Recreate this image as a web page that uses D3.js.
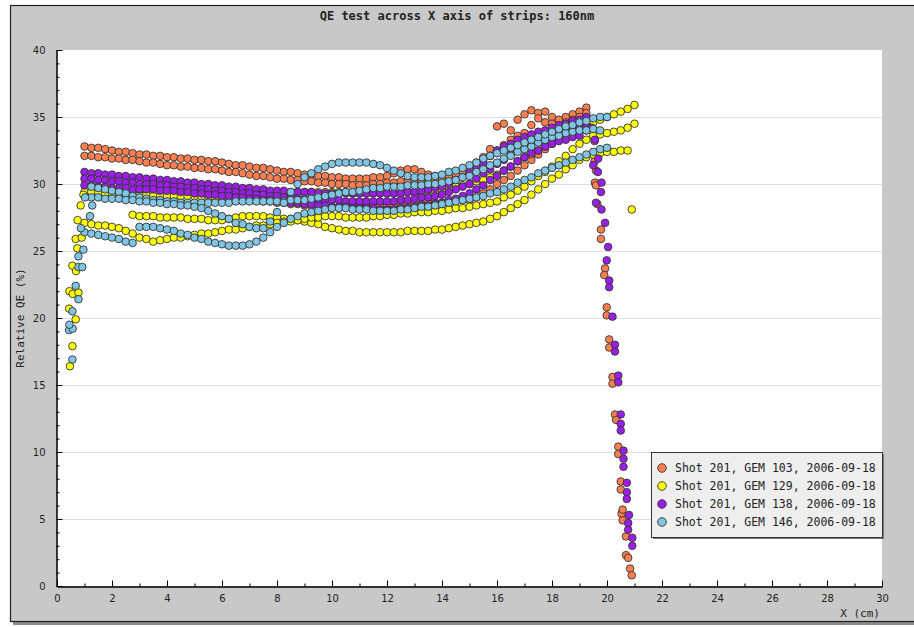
<!DOCTYPE html>
<html>
<head>
<meta charset="utf-8">
<script src="https://cdn.jsdelivr.net/npm/d3@7"></script>
<style>
  body { margin: 0; background: #fff; }
  text { fill: #222; }
</style>
</head>
<body>
<svg id="chart" width="914" height="627"></svg>
<script>
// scans are sampled every 0.25 cm starting at x0
var STEP = 0.25;

var seriesNames = [
  'Shot 201, GEM 103, 2006-09-18',
  'Shot 201, GEM 129, 2006-09-18',
  'Shot 201, GEM 138, 2006-09-18',
  'Shot 201, GEM 146, 2006-09-18'
];

var gem103Scans = [
  {x0: 1.0, y: [32.8,32.7,32.7,32.6,32.5,32.4,32.4,32.3,32.2,32.2,32.1,32.1,32.0,32.0,31.9,31.9,31.8,31.8,31.7,31.7,31.6,31.5,31.4,31.4,31.3,31.2,31.2,31.1,31.0,30.9,30.9,30.8,30.7,30.7,30.6,30.6,30.5,30.5,30.4,30.4,30.4,30.4,30.5,30.5,30.6,30.8,31.0,31.1,31.1,30.9,30.7,30.6,30.6,30.7,30.9,31.0,31.2,31.6,32.0,32.6,34.3,34.5,34.0,34.8,35.2,35.5,35.3,35.4,35.0,34.8,35.0,35.2,35.4,35.7]},
  {x0: 1.0, y: [32.1,32.1,32.0,32.0,31.9,31.9,31.8,31.8,31.7,31.6,31.6,31.5,31.4,31.4,31.3,31.3,31.2,31.2,31.1,31.1,31.0,30.9,30.9,30.8,30.7,30.6,30.6,30.5,30.4,30.4,30.3,30.3,30.2,30.2,30.1,30.1,30.0,30.0,30.0,29.9,29.9,29.9,30.0,30.0,30.1,30.1,30.2,30.2,30.3,30.3,30.4,30.4,30.5,30.6,30.7,30.9,31.0,31.4,31.8,32.1,32.5,32.9,33.3,33.6,33.8,34.4,34.9,34.6,34.5,34.3,34.6,34.8,35.0,35.3]},
  {x0: 6.75, y: [28.9,28.8,28.8,28.7,28.7,28.6,28.6,28.5,28.5,28.4,28.4,28.4,28.3,28.3,28.3,28.3,28.3,28.3,28.3,28.4,28.4,28.4,28.4,28.5,28.5,28.5,28.5,28.6,28.6,28.6,28.7,28.7,28.8,28.8,29.0,29.3,29.6,30.0,30.3,30.6,31.0,31.4,31.8,32.2,32.6,33.0,33.4,33.7,34.0,34.3]}
];
var gem103Loose = [
  [19.5,34.6],[19.55,33.2],[19.55,31.7],[19.6,31.0],[19.56,30.1],[19.6,29.9],[19.65,28.5],[19.78,26.6],[19.78,25.9],
  [19.93,23.7],[19.9,23.2],[19.99,20.8],[19.99,20.2],[20.08,18.4],[20.08,17.8],[20.2,15.6],[20.2,15.1],
  [20.29,12.8],[20.33,12.4],[20.41,10.4],[20.41,9.85],[20.5,7.8],[20.5,7.2],[20.53,5.4],[20.57,5.7],[20.57,4.9],
  [20.69,3.7],[20.69,2.3],[20.77,2.1],[20.84,1.3],[20.9,0.8]
];

var gem129Scans = [
  {x0: 1.0, y: [29.4,29.4,29.4,29.3,29.3,29.3,29.2,29.2,29.2,29.2,29.1,29.1,29.1,29.1,29.1,29.1,29.1,29.1,29.0,29.0,29.0,29.0,29.0,29.1,29.1,29.1,29.2,29.2,29.3,29.3,29.3,29.4,29.4,29.4,29.4,29.4,29.4,29.4,29.4,29.3,29.3,29.3,29.3,29.3,29.3,29.3,29.3,29.4,29.4,29.4,29.5,29.5,29.6,29.7,29.8,29.9,30.0,30.2,30.3,30.5,30.7,31.0,31.3,31.7,32.0,32.2,32.5,32.8,33.0,33.3,33.6,33.8,34.1,34.3,34.6,34.8,35.0,35.2,35.4,35.6,35.9]},
  {x0: 2.75, y: [27.7,27.6,27.6,27.6,27.5,27.5,27.5,27.5,27.4,27.4,27.4,27.3,27.3,27.3,27.4,27.5,27.6,27.6,27.6,27.6,27.5,27.5,27.4,27.4,27.3,27.2,27.1,27.0,26.8,26.7,26.6,26.5,26.5,26.4,26.4,26.4,26.4,26.4,26.4,26.4,26.5,26.5,26.5,26.5,26.6,26.6,26.7,26.8,26.9,27.0,27.1,27.2,27.4,27.6,27.9,28.2,28.5,28.8,29.2,29.6,30.0,30.4,30.7,31.1,31.4,31.8,32.0,32.2,32.3,32.4,32.4,32.5,32.5]},
  {x0: 1.0, y: [27.1,27.0,26.9,26.9,26.8,26.7,26.5,26.3,26.0,25.9,25.7,25.8,25.9,26.0,26.0,26.1,26.2,26.3,26.3,26.4,26.5,26.6,26.6,26.7,26.8,26.9,26.9,27.0,27.1,27.2,27.2,27.3,27.4,27.5,27.5,27.6,27.6,27.6,27.5,27.5,27.5,27.5,27.6,27.6,27.7,27.7,27.8,27.8,27.9,27.9,27.9,28.0,28.0,28.1,28.2,28.2,28.3,28.4,28.5,28.6,28.7,29.0,29.2,29.5,29.8,30.2,30.6,30.9,31.3,31.7,32.1,32.6,33.0,33.3,33.6,33.7,33.8,33.9,34.0,34.2,34.5]}
];
var gem129Loose = [
  [0.47,16.4],[0.56,17.9],[0.68,19.9],[0.44,20.7],[0.45,22.0],[0.57,21.8],[0.78,21.9],[0.56,23.9],
  [0.69,23.5],[0.68,25.9],[0.74,25.2],[0.9,26.0],[0.75,27.3],[0.86,28.4],[0.96,29.2],[20.9,28.1]
];

var gem138Scans = [
  {x0: 1.0, y: [30.9,30.8,30.8,30.7,30.7,30.6,30.6,30.5,30.5,30.4,30.4,30.3,30.3,30.2,30.2,30.1,30.1,30.0,30.0,29.9,29.9,29.8,29.8,29.7,29.7,29.6,29.6,29.5,29.5,29.5,29.4,29.4,29.4,29.4,29.3,29.3,29.3,29.3,29.3,29.3,29.3,29.3,29.3,29.3,29.3,29.3,29.3,29.4,29.4,29.5,29.6,29.7,29.8,30.0,30.3,30.5,30.8,31.2,31.6,32.1,32.5,32.8,33.0,33.3,33.5,33.7,33.9,34.0,34.2,34.4,34.5,34.7,34.8,35.0]},
  {x0: 1.0, y: [30.4,30.4,30.3,30.3,30.2,30.2,30.1,30.1,30.0,30.0,30.0,29.9,29.9,29.8,29.8,29.7,29.7,29.6,29.6,29.5,29.5,29.4,29.4,29.3,29.3,29.2,29.2,29.1,29.1,29.0,29.0,28.9,28.9,28.9,28.8,28.8,28.8,28.8,28.7,28.7,28.7,28.7,28.7,28.7,28.7,28.7,28.8,28.8,28.9,29.0,29.0,29.1,29.2,29.4,29.6,29.8,30.0,30.4,30.8,31.1,31.5,31.8,32.2,32.5,32.8,33.0,33.2,33.4,33.6,33.7,33.9,34.0,34.2,34.5]},
  {x0: 1.0, y: [29.9,29.9,29.8,29.8,29.7,29.7,29.7,29.6,29.6,29.6,29.6,29.5,29.5,29.5,29.4,29.4,29.3,29.3,29.2,29.2,29.1,29.1,29.0,29.0,28.9,28.9,28.8,28.8,28.7,28.7,28.6,28.6,28.5,28.5,28.4,28.4,28.3,28.3,28.3,28.2,28.2,28.2,28.2,28.1,28.1,28.1,28.2,28.2,28.3,28.4,28.4,28.5,28.6,28.8,28.9,29.1,29.3,29.6,29.9,30.3,30.6,31.0,31.3,31.7,32.0,32.3,32.5,32.8,33.0,33.2,33.3,33.5,33.6,34.0]}
];
var gem138Loose = [
  [19.44,34.2],[19.56,33.3],[19.68,31.9],[19.5,31.4],[19.67,30.9],[19.8,30.1],[19.78,29.4],[19.6,28.6],
  [19.8,28.1],[19.93,27.1],[20.04,25.3],[19.99,24.3],[20.08,22.8],[20.08,22.3],[20.2,20.1],[20.29,18.0],
  [20.29,17.5],[20.41,15.7],[20.41,15.2],[20.5,12.8],[20.5,12.1],[20.5,11.6],[20.6,10.1],[20.6,9.5],
  [20.6,8.9],[20.72,7.7],[20.72,7.0],[20.72,6.5],[20.8,5.3],[20.77,4.7],[20.77,4.2],[20.92,3.6],[20.92,3.0]
];

var gem146Scans = [
  {x0: 1.25, y: [29.8,29.7,29.6,29.5,29.4,29.3,29.1,29.0,28.9,28.8,28.8,28.7,28.7,28.6,28.6,28.6,28.6,28.6,28.6,28.6,28.6,28.7,28.7,28.7,28.7,28.7,28.7,28.7,28.7,28.8,28.8,28.8,28.9,29.0,29.1,29.2,29.3,29.4,29.4,29.5,29.6,29.7,29.7,29.8,29.8,29.8,29.9,29.9,29.9,30.0,30.0,30.1,30.2,30.3,30.5,30.6,30.9,31.1,31.4,31.6,31.9,32.1,32.4,32.6,32.8,33.1,33.3,33.5,33.6,33.8,33.9,34.0,34.0,34.1,34.0]},
  {x0: 1.25, y: [29.0,29.0,28.9,28.9,28.9,28.8,28.8,28.7,28.7,28.6,28.6,28.5,28.5,28.4,28.4,28.3,28.2,28.0,27.8,27.6,27.4,27.1,27.0,26.8,26.7,26.7,27.2,27.9,28.6,29.4,30.0,30.5,30.8,31.1,31.3,31.5,31.6,31.6,31.6,31.6,31.6,31.5,31.4,31.2,31.0,30.8,30.6,30.5,30.5,30.5,30.6,30.7,30.9,31.0,31.2,31.4,31.6,31.9,32.1,32.3,32.5,32.7,32.9,33.1,33.3,33.5,33.7,33.9,34.1,34.3,34.4,34.6,34.7,34.9,35.0,35.0]},
  {x0: 1.0, y: [26.4,26.3,26.2,26.1,26.0,25.9,25.7,25.6,26.8,26.8,26.8,26.7,26.6,26.5,26.3,26.2,26.0,25.9,25.7,25.6,25.5,25.4,25.4,25.4,25.5,25.7,26.0,26.4,26.8,27.1,27.4,27.6,27.8,27.9,28.0,28.1,28.2,28.2,28.2,28.1,28.1,28.1,28.0,28.0,28.0,28.0,28.1,28.1,28.2,28.3,28.3,28.4,28.5,28.6,28.7,28.8,28.9,29.0,29.1,29.3,29.4,29.6,29.8,30.1,30.3,30.5,30.8,31.0,31.2,31.4,31.6,31.8,32.0,32.2,32.4,32.6,32.7]}
];
var gem146Loose = [
  [0.56,16.9],[0.44,19.1],[0.57,19.2],[0.45,19.5],[0.56,20.5],[0.78,21.4],[0.68,22.4],[0.78,23.8],
  [0.92,23.8],[0.78,24.6],[0.96,25.1],[0.87,26.7],[1.2,27.6],[1.02,29.0],[1.28,28.4]
];

var xTickValues = d3.range(0, 31, 2);
var yTickValues = d3.range(0, 41, 5);

var colors = ['#ff7f50', '#ffff00', '#9a1fe6', '#80c6e4'];

// flatten scans + loose points into [x, y] pairs
var toPoints = function (scans, loose) {
  var pts = [];
  scans.forEach(function (s) {
    s.y.forEach(function (v, i) {
      pts.push([s.x0 + i * STEP, v]);
    });
  });
  return pts.concat(loose);
};

var series = [
  toPoints(gem103Scans, gem103Loose),
  toPoints(gem129Scans, gem129Loose),
  toPoints(gem138Scans, gem138Loose),
  toPoints(gem146Scans, gem146Loose)
];

var svg = d3.select('#chart');
var plotLeft = 57, plotRight = 882, plotTop = 50, plotBottom = 586;

var x = d3.scaleLinear().domain([0, 30]).range([plotLeft, plotRight]);
var y = d3.scaleLinear().domain([0, 40]).range([plotBottom, plotTop]);

// frame
svg.append('rect').attr('x', 13).attr('y', 9).attr('width', 910).attr('height', 616).attr('fill', '#8a8a8a');
svg.append('rect').attr('x', 10.5).attr('y', 5.5).attr('width', 910).attr('height', 616)
  .attr('fill', '#c8c8c8').attr('stroke', '#222').attr('stroke-width', 1.2);

svg.append('rect').attr('x', plotLeft).attr('y', plotTop)
  .attr('width', plotRight - plotLeft).attr('height', plotBottom - plotTop)
  .attr('fill', '#fff');

svg.append('g').selectAll('line')
  .data(yTickValues.filter(function (d) { return d > 0 && d < 40; }))
  .enter().append('line')
  .attr('x1', plotLeft).attr('x2', plotRight)
  .attr('y1', function (d) { return y(d) + 0.5; })
  .attr('y2', function (d) { return y(d) + 0.5; })
  .attr('stroke', '#dedede');

// title
svg.append('text').attr('x', 457).attr('y', 20).attr('text-anchor', 'middle')
  .style('font', 'bold 12px "DejaVu Sans Mono"')
  .text('QE test across X axis of strips: 160nm');

// markers
svg.append('g').selectAll('g')
  .data(series)
  .enter().append('g')
  .attr('fill', function (d, i) { return colors[i]; })
  .selectAll('circle')
  .data(function (d) { return d; })
  .enter().append('circle')
  .attr('cx', function (d) { return x(d[0]); })
  .attr('cy', function (d) { return y(d[1]); })
  .attr('r', 3.8)
  .attr('stroke', '#333')
  .attr('stroke-width', 0.9);

// axes
var styleAxis = function (g) {
  g.selectAll('path, line').attr('stroke', '#000');
  g.selectAll('text').style('font', '10px "DejaVu Sans"').attr('fill', '#333');
};

svg.append('g').attr('transform', 'translate(0,' + (plotBottom + 0.5) + ')')
  .call(d3.axisBottom(x).tickValues(d3.range(0, 31, 1)).tickSize(-3).tickSizeOuter(0).tickFormat(''))
  .call(styleAxis);
svg.append('g').attr('transform', 'translate(0,' + (plotBottom + 0.5) + ')')
  .call(d3.axisBottom(x).tickValues(xTickValues).tickSize(-6).tickSizeOuter(0).tickPadding(8))
  .call(styleAxis);

svg.append('g').attr('transform', 'translate(' + (plotLeft - 0.5) + ',0)')
  .call(d3.axisLeft(y).tickValues(d3.range(0, 41, 1)).tickSize(-3).tickSizeOuter(0).tickFormat(''))
  .call(styleAxis);
svg.append('g').attr('transform', 'translate(' + (plotLeft - 0.5) + ',0)')
  .call(d3.axisLeft(y).tickValues(yTickValues).tickSize(-6).tickSizeOuter(0).tickPadding(11))
  .call(styleAxis);

svg.append('text').attr('x', 880).attr('y', 617).attr('text-anchor', 'end')
  .style('font', '11px "DejaVu Sans Mono"').text('X (cm)');
svg.append('text').attr('transform', 'translate(24,' + ((plotTop + plotBottom) / 2) + ') rotate(-90)')
  .attr('text-anchor', 'middle')
  .style('font', '11px "DejaVu Sans Mono"').text('Relative QE (%)');

// legend
var legend = svg.append('g').attr('transform', 'translate(651,452)');
legend.append('rect').attr('x', 2).attr('y', 2).attr('width', 231).attr('height', 85).attr('fill', '#777');
legend.append('rect').attr('x', 0.5).attr('y', 0.5).attr('width', 231).attr('height', 85)
  .attr('fill', '#eeeeee').attr('stroke', '#333');
var item = legend.selectAll('.item')
  .data(seriesNames)
  .enter().append('g')
  .attr('class', 'item')
  .attr('transform', function (d, i) { return 'translate(0,' + (16 + i * 18) + ')'; });
item.append('circle').attr('cx', 11).attr('cy', 0).attr('r', 4.3)
  .attr('fill', function (d, i) { return colors[i]; })
  .attr('stroke', '#333').attr('stroke-width', 0.9);
item.append('text').attr('x', 24).attr('y', 4)
  .style('font', '11.5px "DejaVu Sans Mono"')
  .text(function (d) { return d; });
</script>
</body>
</html>
